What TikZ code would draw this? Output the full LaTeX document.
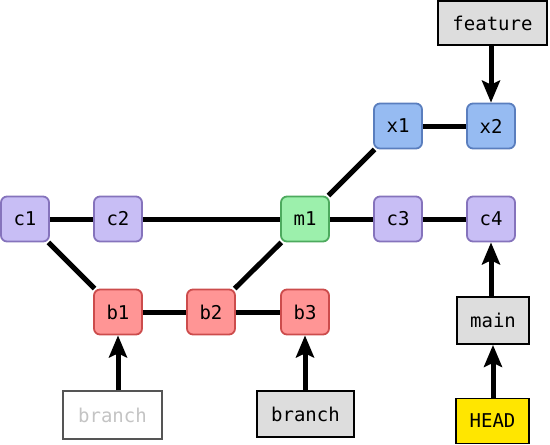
\documentclass[tikz,border=0pt]{standalone}
\usepackage{fontspec}
\setmonofont{DejaVu Sans Mono}
\usetikzlibrary{arrows.meta}
\definecolor{cfill}{HTML}{C8BEF5}
\definecolor{cdraw}{HTML}{8573BC}
\definecolor{bfill}{HTML}{FF9595}
\definecolor{bdraw}{HTML}{CC4C4C}
\definecolor{mfill}{HTML}{9CF0AC}
\definecolor{mdraw}{HTML}{4DAA5E}
\definecolor{xfill}{HTML}{96BBF2}
\definecolor{xdraw}{HTML}{5A7EBE}
\definecolor{rfill}{HTML}{DDDDDD}
\definecolor{hfill}{HTML}{FFE600}
\definecolor{ghost}{HTML}{C4C4C4}
\definecolor{ghostdraw}{HTML}{555555}
\begin{document}
\begin{tikzpicture}[x=1pt,y=-1pt,
  every node/.style={font=\ttfamily\fontsize{19}{22}\selectfont, inner sep=0pt},
  commit/.style={rounded corners=6pt, line width=1.8pt, minimum width=48pt, minimum height=45pt},
  ccommit/.style={commit, fill=cfill, draw=cdraw},
  bcommit/.style={commit, fill=bfill, draw=bdraw},
  mcommit/.style={commit, fill=mfill, draw=mdraw},
  xcommit/.style={commit, fill=xfill, draw=xdraw},
  ref/.style={draw=black, line width=1.8pt, fill=rfill, minimum height=45pt},
  edge/.style={line width=5pt},
  ptr/.style={line width=5pt, -{Stealth[length=22pt,width=18pt,inset=4pt]}}]
\useasboundingbox (0,0) rectangle (550,445);
\node[ccommit] (c1) at (25,219) {c1};
\node[ccommit] (c2) at (118,219) {c2};
\node[mcommit] (m1) at (305,219) {m1};
\node[ccommit] (c3) at (398,219) {c3};
\node[ccommit] (c4) at (491,219) {c4};
\node[xcommit] (x1) at (398,126) {x1};
\node[xcommit] (x2) at (491,126) {x2};
\node[bcommit] (b1) at (118,312) {b1};
\node[bcommit] (b2) at (211,312) {b2};
\node[bcommit] (b3) at (305,312) {b3};
\node[ref, minimum width=109pt, minimum height=44pt] (feature) at (492.5,23) {feature};
\node[ref, minimum width=72pt, minimum height=47pt] (main) at (493,320.5) {main};
\node[ref, fill=hfill, minimum width=73pt, minimum height=45pt] (head) at (492.5,421) {HEAD};
\node[draw=ghostdraw, line width=1.2pt, fill=white, text=ghost, minimum width=99pt, minimum height=48pt] (oldbranch) at (112.5,415) {branch};
\node[ref, minimum width=97pt, minimum height=46pt] (branch) at (305.5,414) {branch};
\draw[edge] (c1) -- (c2);
\draw[edge] (c2) -- (m1);
\draw[edge] (m1) -- (c3);
\draw[edge] (c3) -- (c4);
\draw[edge] (x1) -- (x2);
\draw[edge] (c1) -- (b1);
\draw[edge] (b1) -- (b2);
\draw[edge] (b2) -- (b3);
\draw[edge] (b2) -- (m1);
\draw[edge] (m1) -- (x1);
\draw[ptr] (feature.south -| x2) -- (x2);
\draw[ptr] (main.north -| c4) -- (c4);
\draw[ptr] (head.north -| main) -- (main);
\draw[ptr] (oldbranch.north -| b1) -- (b1);
\draw[ptr] (branch.north -| b3) -- (b3);
\end{tikzpicture}
\end{document}
